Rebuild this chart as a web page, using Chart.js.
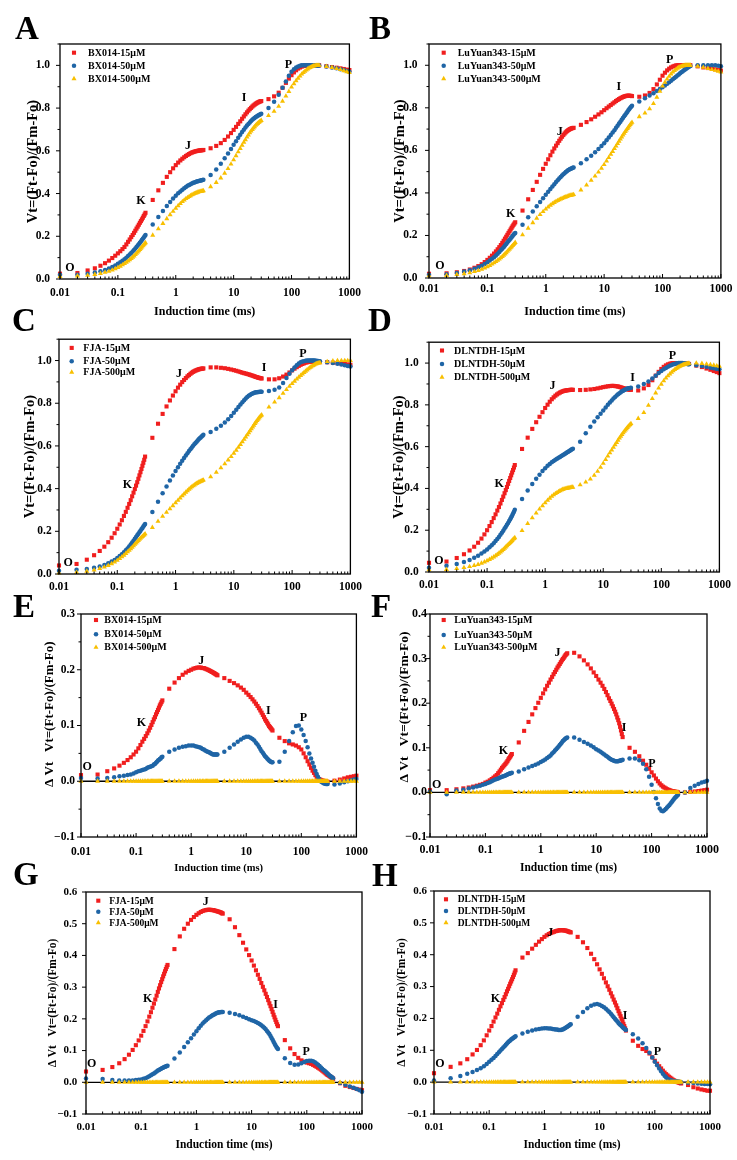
<!DOCTYPE html>
<html><head><meta charset="utf-8">
<script src="https://cdn.jsdelivr.net/npm/chart.js@4.4.1/dist/chart.umd.min.js"></script>
<style>
html,body{margin:0;padding:0;background:#fff;}
#wrap{position:relative;width:737px;height:1160px;overflow:hidden;background:#fff;}
#wrap canvas{position:absolute;}
.lab{position:absolute;font-family:"Liberation Serif","Times New Roman",serif;font-weight:bold;font-size:33px;line-height:33px;color:#000;}
</style></head>
<body><div id="wrap"></div>
<script>
// ---------------- DATA ----------------
const timeMs = [
0.01,0.02,0.03,0.04,0.05,0.06,0.07,0.08,0.09,0.1,0.11,0.12,0.13,0.14,0.15,0.16,0.17,0.18,0.19,0.2,0.21,0.22,0.23,0.24,0.25,0.26,0.27,0.28,0.29,0.3,
0.4,0.5,0.6,0.7,0.8,0.9,1,1.1,1.2,1.3,1.4,1.5,1.6,1.7,1.8,1.9,2,2.1,2.2,2.3,2.4,2.5,2.6,2.7,2.8,2.9,3,
4,5,6,7,8,9,10,11,12,13,14,15,16,17,18,19,20,21,22,23,24,25,26,27,28,29,30,
40,50,60,70,80,90,100,110,120,130,140,150,160,170,180,190,200,210,220,230,240,250,260,270,280,290,300,
400,500,600,700,800,900,1000];

const legendBX = ['BX014-15μM','BX014-50μM','BX014-500μM'];
const legendLY = ['LuYuan343-15μM','LuYuan343-50μM','LuYuan343-500μM'];
const legendFJA = ['FJA-15μM','FJA-50μM','FJA-500μM'];
const legendDL = ['DLNTDH-15μM','DLNTDH-50μM','DLNTDH-500μM'];
const panelLetters = ['A','B','C','D','E','F','G','H'];
const yTitleVt = 'Vt=(Ft-Fo)/(Fm-Fo)';
const yTitleDVt = 'Δ Vt   Vt=(Ft-Fo)/(Fm-Fo)';
const xTitleText = 'Induction time (ms)';

// Panel A: Vt, BX014
const vtBX014_15 = [
.025,.028,.04,.05,.062,.074,.086,.098,.109,.12,.13,.14,.15,.162,.174,.185,.196,.206,.216,.226,.236,.245,.254,.263,.271,.279,.287,.295,.302,.31,
.37,.415,.45,.478,.5,.518,.533,.545,.555,.563,.57,.576,.581,.585,.589,.592,.594,.596,.598,.599,.6,.601,.602,.602,.603,.603,.604,
.612,.623,.636,.651,.667,.683,.698,.712,.726,.738,.75,.761,.771,.78,.788,.795,.801,.807,.812,.816,.82,.823,.826,.828,.83,.832,.833,
.842,.855,.872,.895,.918,.938,.954,.967,.977,.985,.99,.994,.997,.998,.999,1,1,1,1,1,1,1,1,1,1,1,1,
.996,.992,.989,.986,.983,.98,.978];
const vtBX014_50 = [
.02,.02,.025,.03,.036,.042,.049,.056,.063,.071,.078,.086,.093,.1,.108,.115,.122,.129,.136,.143,.15,.157,.163,.17,.176,.182,.188,.194,.2,.206,
.255,.29,.318,.342,.361,.377,.39,.401,.41,.418,.425,.431,.436,.44,.444,.447,.45,.452,.454,.456,.458,.459,.46,.461,.462,.463,.464,
.487,.513,.54,.565,.588,.609,.628,.645,.661,.675,.688,.699,.709,.718,.726,.733,.739,.745,.75,.754,.758,.761,.764,.767,.769,.771,.773,
.8,.83,.862,.895,.925,.951,.97,.982,.99,.995,.998,1,1,1,1,1,1,1,1,1,1,.999,.999,.999,.999,.999,.999,
.995,.99,.986,.982,.978,.974,.97];
const vtBX014_500 = [
.012,.014,.017,.021,.026,.031,.036,.042,.048,.054,.06,.066,.072,.078,.084,.09,.096,.102,.108,.114,.12,.126,.132,.138,.144,.149,.155,.16,.165,.17,
.205,.235,.26,.282,.301,.317,.331,.343,.353,.362,.369,.376,.381,.386,.39,.394,.397,.4,.402,.404,.406,.408,.409,.41,.411,.412,.413,
.432,.452,.473,.495,.517,.538,.558,.577,.595,.611,.626,.64,.652,.664,.674,.684,.692,.7,.707,.713,.719,.724,.728,.732,.736,.739,.742,
.765,.785,.808,.832,.856,.878,.898,.914,.928,.94,.95,.959,.966,.972,.978,.983,.987,.99,.993,.995,.997,.998,.999,1,1,1,1,
.995,.99,.985,.98,.975,.97,.966];

// Panel B: Vt, LuYuan343
const vtLY_15 = [
.02,.022,.027,.033,.04,.048,.056,.065,.075,.085,.095,.105,.115,.125,.135,.145,.155,.165,.175,.185,.194,.203,.212,.22,.228,.236,.243,.25,.256,.262,
.317,.37,.414,.452,.485,.513,.537,.558,.577,.594,.609,.622,.634,.645,.655,.664,.672,.679,.685,.69,.694,.697,.7,.702,.704,.705,.706,
.72,.733,.746,.758,.769,.779,.789,.798,.806,.813,.82,.826,.832,.837,.841,.845,.848,.851,.853,.855,.856,.857,.857,.857,.856,.856,.855,
.852,.858,.87,.888,.91,.932,.951,.965,.976,.984,.99,.994,.997,.999,1,1,1,1,1,1,1,1,1,1,1,1,1,
.995,.99,.987,.984,.981,.978,.975];
const vtLY_50 = [
.015,.018,.024,.03,.037,.044,.051,.058,.066,.074,.082,.09,.098,.106,.114,.122,.13,.138,.145,.153,.16,.167,.174,.18,.186,.192,.198,.203,.208,.212,
.25,.285,.313,.337,.357,.375,.391,.405,.418,.43,.441,.451,.46,.468,.475,.482,.488,.493,.498,.502,.506,.509,.512,.514,.516,.518,.52,
.54,.558,.575,.591,.606,.62,.634,.647,.66,.672,.684,.695,.706,.716,.726,.735,.744,.752,.76,.768,.775,.782,.788,.794,.8,.805,.81,
.83,.845,.858,.869,.879,.888,.897,.905,.913,.92,.927,.934,.94,.946,.952,.957,.962,.967,.971,.975,.979,.983,.986,.989,.992,.995,.997,
1,1,1,1,1,.998,.995];
const vtLY_500 = [
.01,.012,.016,.02,.025,.03,.035,.041,.047,.053,.059,.065,.071,.077,.083,.089,.095,.101,.107,.113,.119,.125,.131,.136,.142,.147,.152,.157,.162,.167,
.203,.234,.26,.281,.298,.312,.324,.334,.342,.349,.355,.36,.364,.368,.371,.374,.377,.379,.381,.383,.385,.387,.388,.389,.39,.391,.392,
.414,.437,.459,.479,.498,.516,.533,.55,.566,.581,.595,.608,.62,.632,.643,.653,.663,.672,.68,.688,.695,.702,.709,.715,.721,.727,.732,
.758,.775,.795,.82,.85,.878,.902,.92,.935,.948,.959,.968,.975,.981,.986,.99,.993,.995,.997,.998,.999,1,1,1,1,1,1,
.995,.99,.985,.98,.976,.972,.968];

// Panel C: Vt, FJA
const vtFJA_15 = [
.04,.047,.067,.088,.108,.128,.149,.17,.191,.212,.232,.252,.272,.291,.31,.328,.346,.364,.381,.398,.414,.43,.446,.462,.477,.492,.507,.521,.535,.55,
.638,.704,.75,.785,.813,.836,.856,.873,.887,.899,.909,.918,.926,.932,.938,.943,.947,.95,.953,.955,.957,.959,.96,.961,.962,.962,.963,
.968,.968,.966,.964,.961,.958,.955,.952,.949,.946,.943,.941,.939,.937,.935,.933,.931,.929,.927,.925,.923,.922,.92,.919,.918,.917,.916,
.912,.912,.917,.925,.934,.944,.954,.962,.969,.975,.98,.984,.987,.99,.992,.993,.994,.995,.995,.995,.995,.995,.995,.994,.994,.993,.993,
.992,.99,.988,.986,.984,.982,.98];
const vtFJA_50 = [
.015,.02,.024,.029,.035,.042,.05,.058,.066,.075,.084,.093,.102,.111,.12,.129,.138,.147,.156,.165,.173,.181,.189,.196,.203,.21,.216,.222,.228,.234,
.29,.338,.378,.41,.438,.461,.482,.5,.516,.53,.543,.555,.566,.576,.585,.593,.601,.608,.614,.62,.626,.631,.636,.64,.644,.648,.652,
.665,.68,.695,.71,.725,.74,.755,.769,.782,.794,.805,.814,.822,.829,.835,.839,.843,.846,.848,.85,.851,.852,.853,.853,.854,.854,.854,
.857,.863,.874,.895,.918,.938,.955,.968,.978,.986,.992,.995,.997,.999,1,1,1,1,1,1,1,.999,.999,.998,.998,.997,.997,
.992,.988,.985,.982,.978,.975,.972];
const vtFJA_500 = [
.005,.008,.013,.018,.025,.032,.04,.048,.056,.064,.072,.08,.088,.096,.104,.111,.118,.125,.132,.139,.145,.151,.157,.162,.167,.172,.176,.18,.184,.188,
.218,.247,.27,.289,.305,.32,.333,.345,.356,.366,.375,.383,.39,.397,.403,.408,.413,.417,.421,.424,.427,.43,.432,.434,.436,.438,.44,
.455,.476,.497,.516,.534,.55,.566,.58,.594,.607,.619,.631,.642,.652,.662,.671,.68,.689,.697,.705,.712,.719,.725,.731,.736,.741,.745,
.782,.805,.826,.846,.864,.879,.892,.903,.913,.922,.93,.937,.944,.95,.956,.961,.966,.97,.974,.977,.98,.983,.985,.987,.988,.989,.99,
.995,.998,1,1,1,1,1];

// Panel D: Vt, DLNTDH
const vtDL_15 = [
.044,.05,.067,.085,.103,.121,.14,.16,.18,.2,.22,.239,.258,.276,.294,.311,.328,.345,.361,.377,.392,.407,.422,.436,.45,.463,.476,.488,.5,.512,
.589,.643,.685,.717,.743,.765,.785,.801,.815,.827,.836,.844,.85,.855,.859,.862,.865,.867,.868,.869,.87,.871,.871,.872,.872,.872,.872,
.871,.872,.874,.876,.879,.882,.885,.887,.889,.89,.891,.891,.89,.889,.888,.886,.884,.882,.88,.879,.877,.876,.875,.874,.873,.873,.872,
.869,.879,.895,.918,.94,.958,.972,.982,.989,.994,.997,.999,1,1,1,1,1,1,1,.999,.999,.998,.998,.997,.997,.996,.996,
.988,.981,.974,.968,.962,.957,.952];
const vtDL_50 = [
.02,.03,.038,.048,.058,.068,.078,.088,.098,.108,.118,.128,.138,.148,.158,.168,.178,.188,.198,.208,.217,.226,.235,.244,.253,.262,.271,.28,.289,.298,
.35,.39,.421,.446,.466,.483,.497,.508,.517,.525,.531,.537,.542,.547,.551,.555,.559,.563,.566,.57,.573,.576,.579,.582,.585,.588,.59,
.623,.664,.695,.72,.741,.758,.773,.787,.8,.811,.821,.83,.838,.845,.851,.856,.861,.865,.868,.871,.874,.876,.878,.879,.88,.881,.882,
.888,.9,.912,.926,.94,.952,.962,.97,.977,.983,.987,.991,.994,.996,.998,.999,1,1,1,1,.999,.999,.998,.997,.996,.995,.994,
.99,.986,.982,.978,.975,.972,.97];
const vtDL_500 = [
.01,.012,.016,.021,.026,.031,.036,.042,.048,.054,.06,.066,.072,.078,.084,.09,.096,.102,.108,.114,.12,.125,.131,.136,.141,.146,.151,.156,.16,.164,
.198,.232,.259,.282,.301,.317,.331,.343,.353,.362,.369,.375,.38,.385,.389,.392,.395,.397,.399,.4,.401,.402,.403,.404,.405,.406,.406,
.417,.43,.445,.463,.482,.501,.52,.538,.555,.57,.584,.597,.609,.62,.631,.641,.65,.658,.666,.673,.68,.686,.692,.697,.702,.706,.71,
.735,.763,.798,.83,.857,.88,.899,.915,.928,.939,.948,.956,.963,.969,.974,.978,.982,.985,.988,.99,.992,.994,.995,.996,.997,.998,.999,
1,.998,.995,.992,.99,.987,.985];

// Panel E: dVt, BX014
const dvtBX014_15 = [
.011,.012,.018,.023,.028,.033,.038,.043,.048,.053,.059,.065,.071,.076,.081,.086,.091,.096,.101,.106,.111,.115,.12,.124,.128,.132,.136,.139,.142,.145,
.166,.177,.185,.191,.195,.198,.2,.202,.203,.204,.204,.204,.203,.203,.202,.201,.2,.199,.198,.197,.196,.195,.194,.193,.192,.191,.19,
.185,.18,.176,.172,.168,.164,.159,.155,.151,.147,.143,.139,.135,.131,.127,.123,.119,.115,.111,.108,.105,.102,.099,.097,.095,.093,.091,
.078,.072,.068,.066,.064,.061,.057,.05,.043,.036,.03,.024,.019,.015,.011,.008,.006,.004,.003,.002,.001,.001,0,0,0,-.001,-.001,
.001,.003,.005,.007,.008,.009,.01];
const dvtBX014_50 = [
.006,.005,.006,.007,.009,.01,.011,.012,.014,.016,.018,.019,.02,.021,.022,.024,.025,.026,.027,.028,.03,.031,.033,.035,.037,.038,.04,.041,.043,.044,
.053,.057,.06,.062,.063,.064,.064,.064,.063,.062,.061,.06,.058,.057,.055,.054,.053,.052,.051,.05,.049,.048,.048,.048,.048,.048,.048,
.053,.06,.066,.071,.075,.078,.08,.08,.078,.076,.073,.069,.066,.062,.058,.054,.051,.048,.045,.043,.041,.039,.037,.036,.035,.034,.034,
.035,.053,.072,.088,.099,.1,.093,.083,.072,.061,.05,.041,.033,.026,.019,.013,.008,.004,.001,-.001,-.002,-.003,-.004,-.004,-.005,-.005,-.005,
-.006,-.004,-.002,0,.002,.003,.004];

// Panel F: dVt, LuYuan343
const dvtLY_15 = [
.005,.005,.007,.009,.011,.013,.015,.017,.019,.022,.024,.027,.03,.033,.036,.039,.043,.047,.051,.055,.058,.061,.064,.067,.07,.074,.077,.08,.083,.086,
.112,.138,.158,.175,.189,.201,.212,.222,.231,.239,.246,.253,.259,.265,.27,.275,.28,.284,.288,.292,.296,.299,.302,.305,.308,.31,.312,
.313,.305,.296,.287,.278,.269,.261,.253,.246,.239,.232,.225,.218,.211,.205,.199,.193,.187,.181,.175,.168,.162,.155,.147,.139,.131,.124,
.1,.091,.081,.071,.062,.053,.045,.038,.031,.025,.02,.016,.013,.011,.009,.007,.006,.005,.004,.003,.003,.002,.002,.001,.001,.001,0,
0,.001,.002,.003,.004,.005,.006];
const dvtLY_50 = [
.002,-.004,.004,.006,.009,.011,.013,.015,.017,.019,.021,.023,.025,.027,.029,.03,.031,.033,.034,.035,.036,.037,.038,.039,.04,.041,.042,.043,.043,.044,
.047,.052,.056,.059,.062,.065,.068,.071,.074,.077,.08,.083,.087,.09,.094,.097,.1,.103,.106,.109,.112,.115,.117,.119,.121,.122,.123,
.123,.118,.113,.109,.105,.101,.097,.094,.091,.088,.085,.082,.08,.077,.075,.073,.072,.071,.07,.07,.07,.07,.071,.071,.072,.072,.073,
.076,.076,.072,.064,.052,.035,.017,.001,-.013,-.026,-.036,-.041,-.042,-.04,-.037,-.034,-.031,-.028,-.025,-.022,-.019,-.016,-.013,-.011,-.009,-.007,-.005,
0,.01,.015,.019,.022,.024,.026];

// Panel G: dVt, FJA
const dvtFJA_15 = [
.034,.039,.048,.06,.073,.087,.102,.117,.132,.147,.162,.177,.192,.207,.221,.235,.248,.261,.273,.285,.296,.306,.316,.325,.334,.342,.35,.357,.364,.37,
.42,.46,.484,.5,.512,.521,.528,.533,.537,.54,.542,.543,.544,.544,.544,.543,.543,.542,.541,.54,.539,.538,.537,.536,.535,.533,.532,
.514,.489,.464,.44,.419,.401,.384,.368,.353,.339,.326,.313,.301,.29,.279,.269,.259,.249,.24,.231,.222,.213,.205,.197,.19,.183,.177,
.133,.107,.089,.077,.069,.065,.062,.06,.058,.055,.052,.049,.046,.043,.04,.037,.034,.031,.028,.025,.023,.021,.019,.017,.015,.013,.011,
-.003,-.011,-.015,-.018,-.021,-.023,-.025];
const dvtFJA_50 = [
.012,.01,.007,.006,.006,.006,.006,.007,.008,.009,.011,.013,.016,.019,.022,.025,.028,.031,.034,.037,.039,.041,.043,.045,.046,.048,.049,.05,.051,.052,
.075,.094,.111,.126,.139,.151,.161,.17,.178,.185,.191,.196,.2,.204,.207,.21,.212,.214,.216,.218,.219,.22,.221,.221,.222,.222,.222,
.219,.215,.211,.207,.203,.199,.196,.193,.19,.187,.184,.18,.176,.172,.167,.162,.157,.152,.146,.14,.134,.128,.122,.117,.112,.108,.105,
.076,.061,.055,.056,.06,.064,.067,.068,.068,.066,.063,.059,.055,.051,.047,.043,.039,.036,.033,.03,.027,.024,.021,.019,.017,.015,.013,
-.002,-.008,-.013,-.017,-.021,-.025,-.03];

// Panel H: dVt, DLNTDH
const dvtDL_15 = [
.028,.048,.059,.072,.087,.101,.116,.131,.147,.162,.176,.19,.203,.215,.227,.238,.248,.258,.267,.276,.285,.293,.301,.309,.316,.323,.33,.337,.344,.351,
.391,.405,.419,.431,.441,.449,.456,.461,.465,.468,.47,.472,.474,.475,.476,.477,.477,.477,.477,.476,.476,.475,.474,.473,.472,.471,.47,
.456,.439,.421,.403,.386,.37,.354,.34,.326,.313,.301,.29,.279,.269,.259,.25,.241,.232,.223,.215,.207,.199,.191,.183,.176,.169,.162,
.13,.114,.104,.098,.09,.078,.067,.058,.05,.043,.036,.03,.025,.021,.017,.014,.011,.008,.006,.004,.002,.001,0,-.001,-.002,-.003,-.004,
-.009,-.016,-.02,-.023,-.025,-.027,-.027];
const dvtDL_50 = [
.005,.012,.019,.026,.032,.038,.044,.05,.057,.064,.07,.076,.082,.088,.094,.099,.104,.109,.113,.117,.121,.125,.128,.131,.134,.136,.138,.14,.142,.144,
.153,.158,.162,.165,.167,.168,.169,.169,.168,.168,.167,.166,.165,.165,.164,.164,.164,.165,.166,.168,.17,.172,.174,.176,.178,.18,.182,
.205,.22,.232,.24,.244,.245,.243,.239,.235,.23,.225,.22,.215,.209,.204,.199,.194,.19,.186,.182,.179,.176,.173,.17,.168,.166,.164,
.15,.137,.122,.107,.092,.077,.064,.053,.043,.034,.026,.02,.015,.011,.008,.006,.005,.004,.003,.003,.002,.002,.001,.001,.001,0,0,
-.002,-.003,-.004,-.005,-.006,-.006,-.007];

// 500 μM reference minus itself (all panels E–H)
const dvtRef_500 = [
0,0,0,0,0,0,0,0,0,0,0,0,0,0,0,0,0,0,0,0,0,0,0,0,0,0,0,0,0,0,
0,0,0,0,0,0,0,0,0,0,0,0,0,0,0,0,0,0,0,0,0,0,0,0,0,0,0,
0,0,0,0,0,0,0,0,0,0,0,0,0,0,0,0,0,0,0,0,0,0,0,0,0,0,0,
0,0,0,0,0,0,0,0,0,0,0,0,0,0,0,0,0,0,0,0,0,0,0,0,0,0,0,
0,0,0,0,0,0,0];

// ---------------- STYLE / LAYOUT ----------------
const FONT = '"Liberation Serif", "Times New Roman", Times, serif';
const COLORS = ['#F01E1E', '#1F65A6', '#F8BF00'];
const STYLES = ['rect', 'circle', 'triangle'];
const RADII = [2.9, 2.25, 2.9];

const panels = [
 {letter:'A', lpos:[15,12], box:[0,0,368,325], plot:[60,44,352,279], yMin:0, yMax:1.1, yStep:0.1, yLabStep:0.2,
  series:[vtBX014_15, vtBX014_50, vtBX014_500], names:legendBX, yTitle:yTitleVt, yTitleSize:14.5, yTitleX:33,
  xTitle:true, xTitleSize:12, xTitleY:312, tick:11.5, xLabY:293, yLabRight:50, zero:false, annSize:12,
  ann:[['O',0.0148,0.052],['K',0.25,0.367],['J',1.63,0.625],['I',15.2,0.848],['P',88,1.0]],
  legend:{dx:14, rows:[8.7,21.7,34.7], tx:28, size:10}},
 {letter:'B', lpos:[369,12], box:[368,0,369,325], plot:[429,44,721,278], yMin:0, yMax:1.1, yStep:0.1, yLabStep:0.2,
  series:[vtLY_15, vtLY_50, vtLY_500], names:legendLY, yTitle:yTitleVt, yTitleSize:14.5, yTitleX:400,
  xTitle:true, xTitleSize:12, xTitleY:312, tick:11.5, xLabY:289.5, yLabRight:417.5, zero:false, annSize:12,
  ann:[['O',0.0154,0.055],['K',0.25,0.30],['J',1.74,0.6875],['I',17.8,0.90],['P',132,1.027]],
  legend:{dx:14.7, rows:[8.7,21.7,34.7], tx:28.7, size:10}},
 {letter:'C', lpos:[12,304], box:[0,325,368,271], plot:[59,339,352,574], yMin:0, yMax:1.1, yStep:0.1, yLabStep:0.2,
  series:[vtFJA_15, vtFJA_50, vtFJA_500], names:legendFJA, yTitle:yTitleVt, yTitleSize:14.5, yTitleX:30,
  xTitle:false, xTitleSize:12, xTitleY:0, tick:11.5, xLabY:587, yLabRight:51.7, zero:false, annSize:12,
  ann:[['O',0.0144,0.05],['K',0.149,0.416],['J',1.14,0.938],['I',33,0.966],['P',153,1.031]],
  legend:{dx:12.7, rows:[8.7,22,33], tx:24.3, size:10}},
 {letter:'D', lpos:[368,304], box:[368,325,369,271], plot:[429,335,721,572], yMin:0, yMax:1.1, yStep:0.1, yLabStep:0.2,
  series:[vtDL_15, vtDL_50, vtDL_500], names:legendDL, yTitle:yTitleVt, yTitleSize:14.5, yTitleX:399.7,
  xTitle:false, xTitleSize:12, xTitleY:0, tick:11.5, xLabY:585, yLabRight:418.7, zero:false, annSize:12,
  ann:[['O',0.0148,0.055],['K',0.162,0.42],['J',1.34,0.893],['I',32,0.93],['P',155,1.033]],
  legend:{dx:13, rows:[8.3,21.7,35], tx:25, size:10}},
 {letter:'E', lpos:[13,590], box:[0,596,376,280], plot:[81,614,358,837], yMin:-0.1, yMax:0.3, yStep:0.05, yLabStep:0.1,
  series:[dvtBX014_15, dvtBX014_50, dvtRef_500], names:legendBX, yTitle:'       ' + yTitleDVt, yTitleSize:13, yTitleX:49.3,
  xTitle:true, xTitleSize:10.5, xTitleY:868, tick:11.5, xLabY:852, yLabRight:75, zero:true, annSize:12,
  ann:[['O',0.013,0.026],['K',0.125,0.104],['J',1.52,0.215],['I',25.3,0.126],['P',108.7,0.114]],
  legend:{dx:15, rows:[6,20.3,33.3], tx:23.3, size:10}},
 {letter:'F', lpos:[371,590], box:[368,596,369,280], plot:[430,614,707,837], yMin:-0.1, yMax:0.4, yStep:0.05, yLabStep:0.1,
  series:[dvtLY_15, dvtLY_50, dvtRef_500], names:legendLY, yTitle:'           ' + yTitleDVt, yTitleSize:13.5, yTitleX:405,
  xTitle:true, xTitleSize:11.5, xTitleY:868, tick:12, xLabY:850, yLabRight:427, zero:true, annSize:12,
  ann:[['O',0.0132,0.0165],['K',0.211,0.093],['J',2.0,0.312],['I',32,0.144],['P',101,0.065]],
  legend:{dx:13.7, rows:[6,21,33.3], tx:24.3, size:10}},
 {letter:'G', lpos:[13,858], box:[0,876,380,284], plot:[86,892,362,1114], yMin:-0.1, yMax:0.6, yStep:0.05, yLabStep:0.1,
  series:[dvtFJA_15, dvtFJA_50, dvtRef_500], names:legendFJA, yTitle:yTitleDVt, yTitleSize:11.5, yTitleX:52.7,
  xTitle:true, xTitleSize:11.5, xTitleY:1145, tick:11, xLabY:1127, yLabRight:77.3, zero:true, annSize:12,
  ann:[['O',0.0127,0.057],['K',0.131,0.264],['J',1.48,0.568],['I',27.2,0.243],['P',97.8,0.096]],
  legend:{dx:12.3, rows:[8.7,19.7,30.7], tx:23.3, size:9.5}},
 {letter:'H', lpos:[372,859], box:[368,876,369,284], plot:[434,891,710,1114], yMin:-0.1, yMax:0.6, yStep:0.05, yLabStep:0.1,
  series:[dvtDL_15, dvtDL_50, dvtRef_500], names:legendDL, yTitle:yTitleDVt, yTitleSize:11.5, yTitleX:402,
  xTitle:true, xTitleSize:11.5, xTitleY:1145, tick:11, xLabY:1126.7, yLabRight:427, zero:true, annSize:12,
  ann:[['O',0.0128,0.057],['K',0.13,0.26],['J',1.28,0.469],['I',29.1,0.208],['P',111.7,0.096]],
  legend:{dx:12, rows:[8.3,20,31.7], tx:23.7, size:9.5}}
];

// ---------------- HELPERS ----------------
function isMultiple(v, step) { const q = v / step; return Math.abs(q - Math.round(q)) < 1e-6; }
function isPow10(v) { const l = Math.log10(v); return Math.abs(l - Math.round(l)) < 1e-6; }
function intMantissa(v) { const m = v / Math.pow(10, Math.floor(Math.log10(v) + 1e-9)); return Math.abs(m - Math.round(m)) < 1e-6; }
function fmtY(v) { if (Math.abs(v) < 1e-9) v = 0; const s = v.toFixed(1); return s.replace('-', '\u2212'); }
function marker(ctx, style, x, y, r) {
  ctx.beginPath();
  if (style === 'rect') { const s = r * Math.SQRT1_2; ctx.rect(x - s, y - s, 2 * s, 2 * s); }
  else if (style === 'circle') { ctx.arc(x, y, r, 0, Math.PI * 2); }
  else {
    const a1 = 2 * Math.PI / 3, a2 = 4 * Math.PI / 3;
    ctx.moveTo(x, y - r);
    ctx.lineTo(x + Math.sin(a1) * r, y - Math.cos(a1) * r);
    ctx.lineTo(x + Math.sin(a2) * r, y - Math.cos(a2) * r);
    ctx.closePath();
  }
  ctx.fill();
}

function framePlugin(P) {
  return {
    id: 'frame' + P.letter,
    beforeDatasetsDraw(chart) {
      if (!P.zero) return;
      const {ctx, chartArea: a} = chart;
      const y = chart.scales.y.getPixelForValue(0);
      ctx.save();
      ctx.strokeStyle = '#000'; ctx.lineWidth = 1.3;
      ctx.beginPath(); ctx.moveTo(a.left, y); ctx.lineTo(a.right, y); ctx.stroke();
      ctx.restore();
    },
    afterDatasetsDraw(chart) {
      const {ctx, chartArea: a} = chart;
      const xs = chart.scales.x, ys = chart.scales.y;
      ctx.save();
      ctx.strokeStyle = '#000';
      ctx.lineWidth = 1.3;
      ctx.strokeRect(a.left, a.top, a.right - a.left, a.bottom - a.top);
      ctx.lineWidth = 1;
      ctx.beginPath();
      ys.ticks.forEach(t => {
        const py = ys.getPixelForValue(t.value);
        const len = isMultiple(t.value, P.yLabStep) ? 4 : 2.5;
        ctx.moveTo(a.left, py); ctx.lineTo(a.left - len, py);
      });
      xs.ticks.forEach(t => {
        if (!intMantissa(t.value)) return;
        const px = xs.getPixelForValue(t.value);
        const len = isPow10(t.value) ? 4 : 2.5;
        ctx.moveTo(px, a.bottom); ctx.lineTo(px, a.bottom - len);
      });
      ctx.stroke();
      // O K J I P labels
      ctx.fillStyle = '#000';
      ctx.font = 'bold ' + P.annSize + 'px ' + FONT;
      ctx.textAlign = 'center'; ctx.textBaseline = 'middle';
      P.ann.forEach(([txt, t, v]) => ctx.fillText(txt, xs.getPixelForValue(t), ys.getPixelForValue(v)));
      // legend
      const L = P.legend;
      ctx.textAlign = 'left';
      ctx.font = 'bold ' + L.size + 'px ' + FONT;
      chart.data.datasets.forEach((ds, i) => {
        const cx = a.left + L.dx, cy = a.top + L.rows[i];
        ctx.fillStyle = COLORS[i];
        marker(ctx, STYLES[i], cx, cy, RADII[i]);
        ctx.fillStyle = '#000';
        ctx.fillText(ds.label, a.left + L.tx, cy + 0.5);
      });
      ctx.restore();
    }
  };
}

Chart.defaults.font.family = FONT;
const wrap = document.getElementById('wrap');

panels.forEach(P => {
  const [bx, by, bw, bh] = P.box;
  const [pl, pt, pr, pb] = P.plot;
  const cv = document.createElement('canvas');
  cv.width = bw; cv.height = bh;
  cv.style.left = bx + 'px'; cv.style.top = by + 'px';
  cv.style.width = bw + 'px'; cv.style.height = bh + 'px';
  wrap.appendChild(cv);

  const datasets = P.series.map((arr, i) => ({
    label: P.names[i],
    data: timeMs.map((t, j) => ({x: t, y: arr[j]})),
    pointStyle: STYLES[i],
    pointRadius: RADII[i], pointHoverRadius: RADII[i],
    backgroundColor: COLORS[i], pointBackgroundColor: COLORS[i],
    borderColor: COLORS[i], pointBorderColor: COLORS[i],
    borderWidth: 0, pointBorderWidth: 0,
    showLine: false, order: 3 - i, clip: false
  }));

  const tickFont = {family: FONT, weight: 'bold', size: P.tick};
  new Chart(cv.getContext('2d'), {
    type: 'scatter',
    data: {datasets},
    options: {
      responsive: false, animation: false, events: [],
      layout: {padding: {left: 0, top: pt - by, right: (bx + bw) - pr, bottom: 0}},
      plugins: {legend: {display: false}, tooltip: {enabled: false}},
      scales: {
        x: {
          type: 'logarithmic', position: 'bottom', min: 0.01, max: 1000,
          grid: {display: false, drawTicks: false}, border: {display: false},
          ticks: {
            autoSkip: false, maxRotation: 0, minRotation: 0, color: '#000', font: tickFont,
            padding: P.xLabY - pb - P.tick * 0.6,
            callback: v => isPow10(v) ? String(v) : ''
          },
          title: {
            display: P.xTitle, text: xTitleText, color: '#000',
            font: {family: FONT, weight: 'bold', size: P.xTitleSize},
            padding: {top: 0, bottom: Math.max(0, (by + bh) - P.xTitleY - P.xTitleSize * 0.6)}
          },
          afterBuildTicks: s => { s.ticks = s.ticks.filter(t => intMantissa(t.value)); },
          afterFit: s => { s.height = (by + bh) - pb; }
        },
        y: {
          type: 'linear', position: 'left', min: P.yMin, max: P.yMax,
          grid: {display: false, drawTicks: false}, border: {display: false},
          ticks: {
            stepSize: P.yStep, maxTicksLimit: 60, color: '#000', font: tickFont,
            padding: pl - P.yLabRight,
            callback: v => isMultiple(v, P.yLabStep) ? fmtY(v) : ''
          },
          title: {
            display: true, text: P.yTitle, color: '#000',
            font: {family: FONT, weight: 'bold', size: P.yTitleSize},
            padding: {top: (P.yTitleX - bx) - P.yTitleSize * 0.6, bottom: 0}
          },
          afterFit: s => { s.width = pl - bx; }
        }
      }
    },
    plugins: [framePlugin(P)]
  });
});

panels.forEach(P => {
  const d = document.createElement('div');
  d.className = 'lab';
  d.textContent = P.letter;
  d.style.left = P.lpos[0] + 'px';
  d.style.top = P.lpos[1] + 'px';
  wrap.appendChild(d);
});
</script>
</body></html>
